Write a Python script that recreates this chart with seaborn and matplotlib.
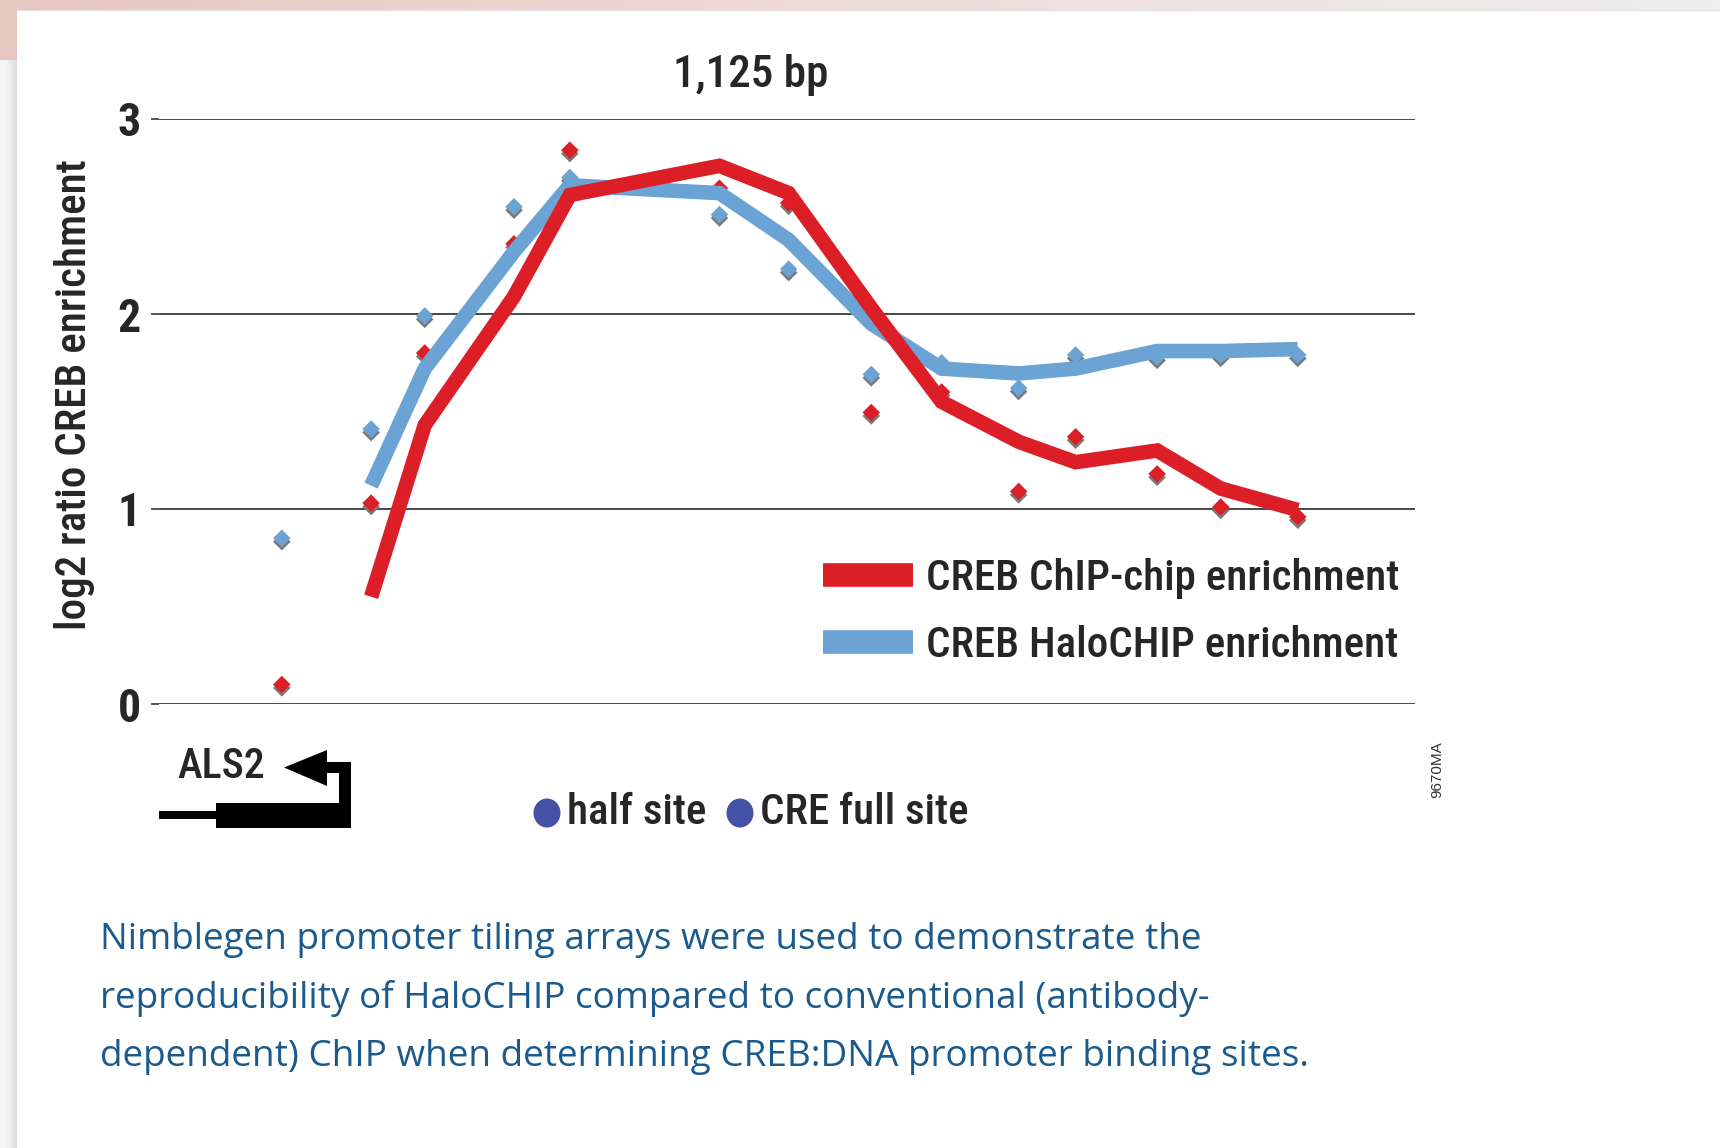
import numpy as np
import pandas as pd
import matplotlib
matplotlib.use("Agg")
import matplotlib.pyplot as plt
import matplotlib.patheffects as pe
from matplotlib.lines import Line2D
from matplotlib.patches import Rectangle, Polygon, Ellipse
from matplotlib.colors import LinearSegmentedColormap
import seaborn as sns

sns.set_theme(style="white")
COND = ["Roboto Condensed", "IBM Plex Sans Condensed", "DejaVu Sans"]
plt.rcParams["font.family"] = COND
plt.rcParams["font.weight"] = "medium"
plt.rcParams["lines.solid_joinstyle"] = "miter"
plt.rcParams["lines.solid_capstyle"] = "butt"

# ─── data ────────────────────────────────────────────────────────────────────
# probe positions along the 1,125 bp promoter window
positions = [110, 190, 238, 318, 368, 502, 564, 638, 701, 770, 821, 894, 951, 1020]

# individual probe values (diamonds)
chip_points = [0.10, 1.03, 1.80, 2.36, 2.84, 2.645, 2.57, 1.495, 1.60, 1.09, 1.37, 1.18, 1.01, 0.96]
halo_points = [0.85, 1.41, 1.99, 2.55, 2.70, 2.51, 2.23, 1.69, 1.75, 1.62, 1.79, 1.78, 1.79, 1.79]

# smoothed enrichment lines (start at the second probe)
line_positions = positions[1:]
chip_line = [0.55, 1.43, 2.09, 2.61, 2.76, 2.62, 2.03, 1.55, 1.345, 1.24, 1.30, 1.105, 0.995]
halo_line = [1.12, 1.72, 2.32, 2.66, 2.62, 2.38, 1.95, 1.72, 1.695, 1.72, 1.81, 1.81, 1.82]

series_names = ["CREB ChIP-chip enrichment", "CREB HaloCHIP enrichment"]
yticks = [0, 1, 2, 3]
site_labels = ["half site", "CRE full site"]

RED = "#DC1F27"
BLUE = "#6CA3D5"
DOT = "#4352A4"
CAPTION = "#1B5A8C"

W, H = 1720, 1148
fig = plt.figure(figsize=(W / 100, H / 100), dpi=100)
fig.patch.set_facecolor("white")

# page background, drawn in pixel coordinates
bg = fig.add_axes([0, 0, 1, 1], zorder=0)
bg.set_xlim(0, W)
bg.set_ylim(H, 0)
bg.axis("off")
band_cmap = LinearSegmentedColormap.from_list("band", ["#E6C6C0", "#EFDCD8", "#EEEEEE"])
bg.imshow(np.linspace(0, 1, 256)[None, :], cmap=band_cmap, extent=(0, W, 10, 0), aspect="auto")
bg.add_patch(Rectangle((0, 0), 17, 60, color="#E6C6C0", lw=0))
side_cmap = LinearSegmentedColormap.from_list("side", ["#F6F6F6", "#DDDDDD"])
bg.imshow(np.linspace(0, 1, 64)[None, :], cmap=side_cmap, extent=(6, 17, H, 60), aspect="auto")
bg.add_patch(Rectangle((0, 60), 6, H - 60, color="#F6F6F6", lw=0))
bg.plot([17, W], [10, 10], color="#E3E3E3", lw=1)

# ─── main chart ──────────────────────────────────────────────────────────────
ax = fig.add_axes([159 / W, 1 - 704 / H, (1415 - 159) / W, (704 - 119) / H], zorder=2)
ax.patch.set_alpha(0)

pts = pd.DataFrame({
    "pos": positions * 2,
    "value": chip_points + halo_points,
    "series": [series_names[0]] * len(positions) + [series_names[1]] * len(positions),
})
lines = pd.DataFrame({
    "pos": line_positions * 2,
    "value": chip_line + halo_line,
    "series": [series_names[0]] * len(line_positions) + [series_names[1]] * len(line_positions),
})
palette = {series_names[0]: RED, series_names[1]: BLUE}

sns.scatterplot(data=pts, x="pos", y="value", hue="series", palette=palette,
                marker="D", s=80, linewidth=0, legend=False, ax=ax, zorder=3)
for coll in ax.collections:
    coll.set_path_effects([pe.SimplePatchShadow(offset=(0, -2.5), shadow_rgbFace="#7A7A7A", alpha=1.0),
                           pe.Normal()])

sns.lineplot(data=lines, x="pos", y="value", hue="series", palette=palette,
             hue_order=[series_names[1], series_names[0]], sort=False,
             linewidth=10.5, legend=False, ax=ax, zorder=4)

ax.set_xlim(0, 1125)
ax.set_ylim(0, 3)
ax.set_yticks(yticks)
ax.set_yticklabels([str(t) for t in yticks], fontsize=33, fontweight="bold")
ax.set_xticks([])
ax.grid(axis="y", color="#3A3A3A", lw=1.3)
ax.set_axisbelow(True)
for s in ax.spines.values():
    s.set_visible(False)
ax.tick_params(axis="y", left=True, length=6, width=1.2, color="#3A3A3A", pad=7)
ax.set_xlabel("")
ax.set_ylabel("")
ax.set_title("1,125 bp", fontsize=32.5, fontweight="medium", x=0.471, y=1.075, va="center", pad=0)

handles = [Line2D([], [], color=RED, lw=17), Line2D([], [], color=BLUE, lw=17)]
ax.legend(handles, series_names, loc="upper left", bbox_to_anchor=(823 / W, 1 - 558 / H),
          bbox_transform=fig.transFigure, frameon=False, fontsize=31,
          handlelength=2.1, handletextpad=0.3, labelspacing=0.6, borderpad=0, borderaxespad=0)

# y label
bg.text(75, 395, "log2 ratio CREB enrichment", rotation=90, ha="center", va="center", fontsize=31)

# gene diagram
bg.add_patch(Rectangle((159, 811), 59, 8, color="black", lw=0))
bg.add_patch(Rectangle((216, 803), 135, 25, color="black", lw=0))
bg.add_patch(Rectangle((339, 762), 12, 66, color="black", lw=0))
bg.add_patch(Rectangle((318, 762), 33, 11, color="black", lw=0))
bg.add_patch(Polygon([(284, 767.5), (327, 750), (327, 786)], closed=True, color="black", lw=0))
bg.text(221, 767, "ALS2", ha="center", va="center", fontsize=30)

# binding site key
for cx, label in zip([547, 740], site_labels):
    bg.add_patch(Ellipse((cx, 813), 27, 29, color=DOT, lw=0))
    bg.text(cx + 20, 813, label, ha="left", va="center", fontsize=31)

bg.text(1437, 770, "9670MA", rotation=90, ha="center", va="center", fontsize=11,
        color="#333333", family=["Liberation Sans", "DejaVu Sans"], fontweight="normal")

caption = ["Nimblegen promoter tiling arrays were used to demonstrate the",
           "reproducibility of HaloCHIP compared to conventional (antibody-",
           "dependent) ChIP when determining CREB:DNA promoter binding sites."]
for i, line in enumerate(caption):
    bg.text(100, 940 + i * 58.5, line, ha="left", va="center", fontsize=26.6,
            color=CAPTION, family=["Open Sans", "DejaVu Sans"], fontweight="normal")

fig.savefig("out.png", dpi=100)
